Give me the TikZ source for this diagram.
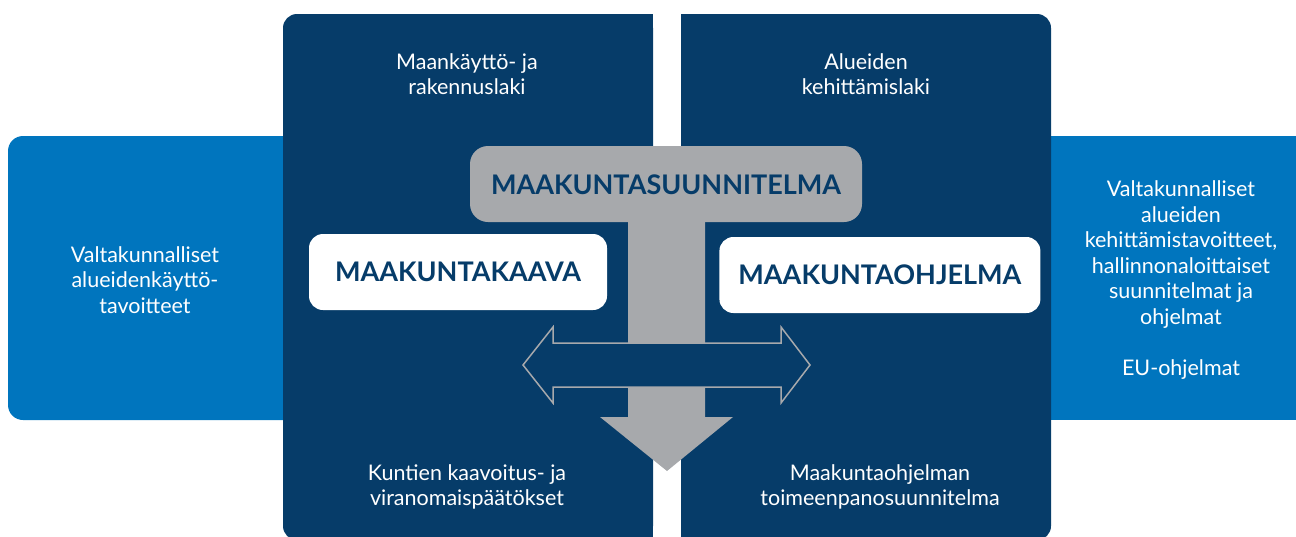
\documentclass[tikz,border=0pt]{standalone}
\usepackage{fontspec}
\setmainfont{Lato}
\usetikzlibrary{positioning}
\definecolor{bandblue}{HTML}{0075BE}
\definecolor{navy}{HTML}{063C69}
\definecolor{tgray}{HTML}{A7A9AC}

\begin{document}
\begin{tikzpicture}[x=1pt,y=-1pt,
		body/.style={text=white,align=center,inner sep=0pt,font=\fontsize{21.5}{25.5}\selectfont},
		title/.style={text=navy,font=\fontsize{27}{30}\bfseries\selectfont},
		planbox/.style={fill=white,rounded corners=14pt,minimum height=76pt,inner sep=0pt}]
		\useasboundingbox (0,0) rectangle (1296,536);
		\begin{scope}
		\clip (0,0) rectangle (1296,536);
		% side bands
		\fill[bandblue,rounded corners=15pt] (8,136) rectangle (300,420);
		\fill[bandblue] (1040,136) rectangle (1296,420);
		% two dark panels
		\fill[navy,rounded corners=14pt] (283,14) rectangle (653,540);
		\fill[navy] (500,14) rectangle (653,540);
		\fill[navy,rounded corners=14pt] (681,14) rectangle (1051,540);
		\fill[navy] (681,14) rectangle (850,540);
		\end{scope}
		
		% grey T arrow
		\fill[tgray,rounded corners=18pt] (470,146) rectangle (862,222);
		\fill[tgray] (628,210) -- (705,210) -- (705,417) -- (733,417) -- (667,471)
		-- (600,417) -- (628,417) -- cycle;
		\node[title]  (plan)   at (666,185)   {MAAKUNTASUUNNITELMA};
		
		% double arrow
		\filldraw[fill=navy,draw=tgray,line width=1.5pt] (523,365) -- (553,327) -- (553,343)
		-- (781,343) -- (781,327) -- (810,365) -- (781,403) -- (781,387) -- (553,387)
		-- (553,403) -- cycle;
		
		\node[planbox,minimum width=298pt]  (kaava)   at (458,272)   {};
		\node[planbox,minimum width=321pt]  (ohjelma) [right=112pt of kaava, yshift=-3pt] {};
		\node[title]  (kaavat)   at (kaava)   {MAAKUNTAKAAVA};
		\node[title]  (ohjelmat) at (ohjelma) {MAAKUNTAOHJELMA};
		
		\node[body]  (mrl)     at (467,74)   {Maankäyttö- ja\\rakennuslaki};
		\node[body]  (akl)     at (866,74)   {Alueiden\\kehittämislaki};
		\node[body]  (kunnat)  at (467,487)  {Kuntien kaavoitus- ja\\viranomaispäätökset};
		\node[body]  (toimeen) at (880,487)  {Maakuntaohjelman\\toimeenpanosuunnitelma};
		\node[body]  (vat)     at (145,280)  {Valtakunnalliset\\alueidenkäyttö-\\tavoitteet};
		\node[body]  (vak)     at (1181,280) {Valtakunnalliset\\alueiden\\kehittämistavoitteet,\\hallinnonaloittaiset\\suunnitelmat ja\\ohjelmat\\[25.5pt]EU-ohjelmat};
\end{tikzpicture}
\end{document}
